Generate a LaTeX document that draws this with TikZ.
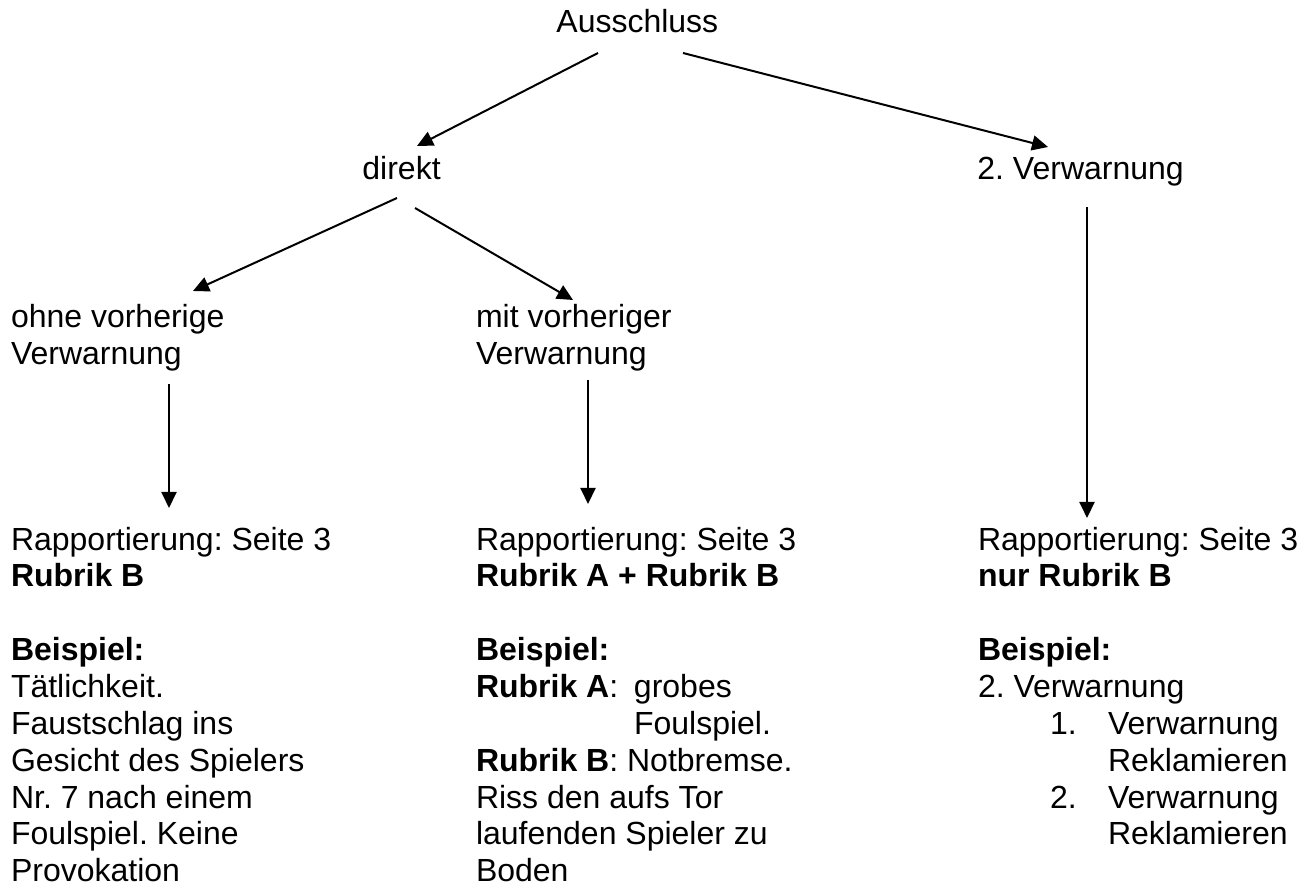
\documentclass[tikz,border=0pt]{standalone}
\usepackage{fontspec}
\setmainfont{Liberation Sans}
\usetikzlibrary{arrows.meta}
\frenchspacing
\tikzset{
  lbl/.style={anchor=base west, inner sep=0pt, font=\fontsize{16}{18.4}\selectfont\frenchspacing},
  blk/.style={anchor=north west, inner sep=0pt, outer sep=0pt, align=left, yshift=12.88pt, font=\fontsize{16}{18.4}\selectfont\frenchspacing},
  arr/.style={line width=1pt, -{Triangle[length=8pt,width=7.5pt]}}
}
\begin{document}
\begin{tikzpicture}[x=0.5pt,y=-0.5pt]
\fill[white] (0,0) rectangle (1304,886);
\useasboundingbox (0,0) rectangle (1304,886);
% top levels
\node[lbl] (aus) at (556,33) {Ausschluss};
\node[lbl] (dir) at (362,180) {direkt};
\node[lbl] (zw) at (977,180) {2. Verwarnung};
% second level
\node[blk] (ohne) at (11,328) {\strut ohne vorherige\\Verwarnung};
\node[blk] (mit) at (476,328) {\strut mit vorheriger\\Verwarnung};
% bottom blocks
\node[blk] (rapL) at (11,550) {\strut Rapportierung: Seite 3\\\textbf{Rubrik B}\\[18.6pt]
\textbf{Beispiel:}\\Tätlichkeit.\\Faustschlag ins\\Gesicht des Spielers\\Nr. 7 nach einem\\Foulspiel. Keine\\Provokation};
\node[blk] (rapM) at (476,550) {\strut Rapportierung: Seite 3\\\textbf{Rubrik A + Rubrik B}\\[18.6pt]
\textbf{Beispiel:}\\\makebox[79pt][l]{\textbf{Rubrik A}:}grobes\\\hspace*{79pt}Foulspiel.\\\textbf{Rubrik B}: Notbremse.\\Riss den aufs Tor\\laufenden Spieler zu\\Boden};
\node[blk] (rapR) at (978,550) {\strut Rapportierung: Seite 3\\\textbf{nur Rubrik B}\\[18.6pt]
\textbf{Beispiel:}\\2. Verwarnung\\\hspace*{36pt}\makebox[29pt][l]{1.}Verwarnung\\\hspace*{65pt}Reklamieren\\\hspace*{36pt}\makebox[29pt][l]{2.}Verwarnung\\\hspace*{65pt}Reklamieren};
% connectors
\draw[arr] ([shift={(42,20)}]aus.base west) -- ([shift={(55,-34)}]dir.base west);
\draw[arr] ([shift={(127,20)}]aus.base west) -- ([shift={(71,-33)}]zw.base west);
\draw[arr] ([shift={(35,18)}]dir.base west) -- ([shift={(182,-11.24)}]ohne.north west);
\draw[arr] ([shift={(53,28)}]dir.base west) -- ([shift={(97,-2.24)}]mit.north west);
\draw[arr] ([shift={(158,81.76)}]ohne.north west) -- ([shift={(158,-16.24)}]rapL.north west);
\draw[arr] ([shift={(112,77.76)}]mit.north west) -- ([shift={(112,-20.24)}]rapM.north west);
\draw[arr] ([shift={(110,27)}]zw.base west) -- ([shift={(109,-6.24)}]rapR.north west);
\end{tikzpicture}
\end{document}
